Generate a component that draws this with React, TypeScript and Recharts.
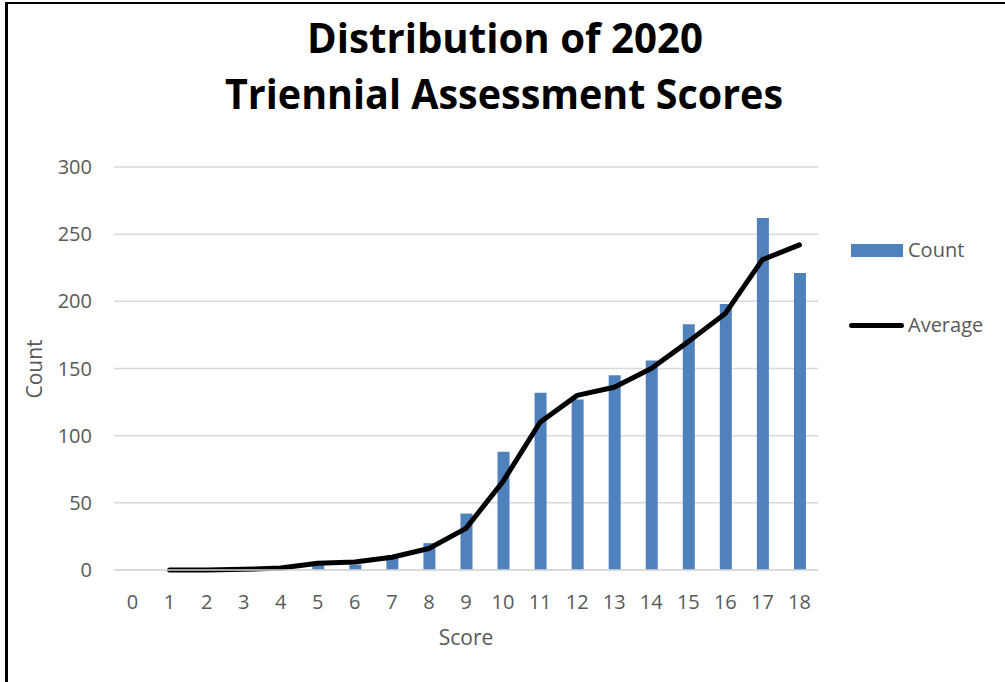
import React from 'react';
import { ComposedChart, Bar, Line, XAxis, YAxis, CartesianGrid, Legend } from 'recharts';

// values
const scores = ['0', '1', '2', '3', '4', '5', '6', '7', '8', '9', '10', '11', '12', '13', '14', '15', '16', '17', '18'];
const counts = [null, 0, 0, 0, 1, 4, 4, 11, 20, 42, 88, 132, 127, 145, 156, 183, 198, 262, 221];
const averages = [null, 0, 0, 0.5, 1.5, 5, 6, 9.5, 16, 31, 66, 110, 130, 136, 150, 170, 191, 231, 242];
const yTicks = [0, 50, 100, 150, 200, 250, 300];
const titleLines = ['Distribution of 2020', 'Triennial Assessment Scores'];

const data = scores.map((s, i) => ({ score: s, Count: counts[i], Average: averages[i] }));

const FONT = '"Open Sans", "Noto Sans", sans-serif';
const GREY = '#595959';
const BLUE = '#4f81bd';

const LegendBox = () => (
  <div style={{ position: 'relative', width: 150, height: 100, fontFamily: FONT, fontSize: 20, color: GREY }}>
    <div style={{ position: 'absolute', left: 2, top: 8, width: 52, height: 13, background: BLUE }} />
    <div style={{ position: 'absolute', left: 59, top: 0, lineHeight: '28px' }}>Count</div>
    <div style={{ position: 'absolute', left: 0, top: 87, width: 55, height: 5, borderRadius: 3, background: '#000' }} />
    <div style={{ position: 'absolute', left: 59, top: 75, lineHeight: '28px' }}>Average</div>
  </div>
);

export default function App() {
  return (
    <div style={{ position: 'absolute', left: 0, top: 0, width: 1005, height: 682, overflow: 'hidden', background: '#fff' }}>
      <div
        style={{
          position: 'absolute', left: 5, top: 2, width: 1100, height: 800,
          borderLeft: '3px solid #000', borderTop: '2px solid #000',
        }}
      />
      <svg width={1005} height={130} style={{ position: 'absolute', left: 0, top: 0 }}>
        <text x={505} y={53} textAnchor="middle" fontFamily={FONT} fontWeight={700} fontSize={41}
          textLength={396} lengthAdjust="spacingAndGlyphs" fill="#000">{titleLines[0]}</text>
        <text x={504} y={109} textAnchor="middle" fontFamily={FONT} fontWeight={700} fontSize={41}
          textLength={558} lengthAdjust="spacingAndGlyphs" fill="#000">{titleLines[1]}</text>
      </svg>
      <div style={{ position: 'absolute', left: 0, top: 0 }}>
        <ComposedChart
          width={1005}
          height={682}
          data={data}
          margin={{ top: 167, right: 37, bottom: 72, left: 54 }}
          barSize={12}
        >
          <CartesianGrid vertical={false} stroke="#d9d9d9" strokeWidth={1.5} />
          <XAxis
            dataKey="score"
            height={40}
            axisLine={{ stroke: '#d9d9d9', strokeWidth: 1.5 }}
            tickLine={false}
            tickSize={0}
            tickMargin={25}
            interval={0}
            tick={{ fill: GREY, fontSize: 20, fontFamily: FONT }}
            label={{ value: 'Score', position: 'bottom', offset: 20, fill: GREY, fontSize: 21, fontFamily: FONT }}
          />
          <YAxis
            width={60}
            domain={[0, 300]}
            ticks={yTicks}
            axisLine={false}
            tickLine={false}
            tickSize={0}
            tickMargin={22}
            tick={{ fill: GREY, fontSize: 20, fontFamily: FONT }}
            label={{
              content: () => (
                <text x={34} y={369} transform="rotate(-90 34 369)" textAnchor="middle" dominantBaseline="central"
                  fill={GREY} fontSize={21} fontFamily={FONT}>Count</text>
              ),
            }}
          />
          <Legend
            layout="vertical"
            verticalAlign="top"
            align="right"
            wrapperStyle={{ left: 849, top: 236, width: 150 }}
            content={() => <LegendBox />}
          />
          <Bar dataKey="Count" fill={BLUE} isAnimationActive={false} />
          <Line
            dataKey="Average"
            type="linear"
            stroke="#000"
            strokeWidth={5}
            strokeLinecap="round"
            strokeLinejoin="round"
            dot={false}
            activeDot={false}
            connectNulls={false}
            isAnimationActive={false}
          />
        </ComposedChart>
      </div>
    </div>
  );
}
